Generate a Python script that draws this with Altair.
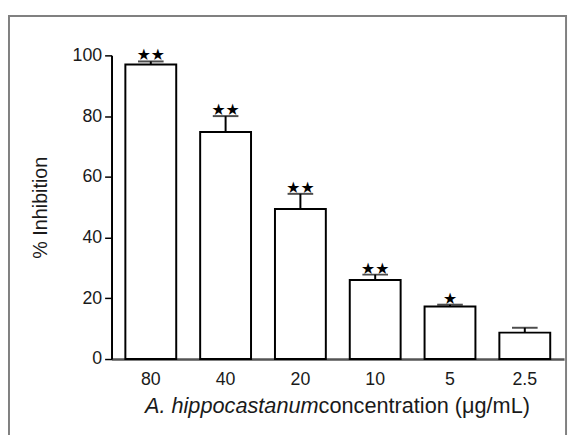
import altair as alt
import pandas as pd

concentrations = ["80", "40", "20", "10", "5", "2.5"]
inhibition = [97.0, 74.8, 49.4, 26.0, 17.3, 8.7]
errors = [1.0, 5.2, 5.0, 1.8, 0.6, 1.6]
stars = ["★★", "★★", "★★", "★★", "★", ""]
y_ticks = [0, 20, 40, 60, 80, 100]
y_title = "% Inhibition"
x_title_italic = "A. hippocastanum"
x_title_normal = "concentration (μg/mL)"

df = pd.DataFrame({
    "conc": concentrations,
    "mean": inhibition,
    "err": errors,
    "star": stars,
})
df["upper"] = df["mean"] + df["err"]

FONT = "Liberation Sans"
W, H = 459, 308

x_enc = alt.X(
    "conc:N",
    sort=concentrations,
    scale=alt.Scale(paddingInner=0.32, paddingOuter=0.185),
    axis=alt.Axis(
        title=None, labelAngle=0, ticks=False, labelPadding=12, grid=False,
        labelFontSize=18, labelFont=FONT, labelColor="#1a1a1a",
        domainColor="#555555", domainWidth=2.5,
    ),
)
y_scale = alt.Scale(domain=[0, 100], nice=False, zero=True)

base = alt.Chart(df)

bars = base.mark_bar(fill="white", stroke="black", strokeWidth=2).encode(
    x=x_enc,
    y=alt.Y(
        "mean:Q", scale=y_scale,
        axis=alt.Axis(
            values=y_ticks, title=y_title, grid=False,
            tickSize=7, tickWidth=1.5, tickColor="black",
            domainColor="black", domainWidth=2,
            labelFontSize=18, labelFont=FONT, labelColor="#1a1a1a", labelPadding=3,
            titleFontSize=20, titleFont=FONT, titleFontWeight="normal", titleColor="#1a1a1a",
            titleAngle=-90, titleX=-72, titleY=H / 2, titleAlign="center", titleBaseline="middle",
        ),
    ),
)

err_rule = base.mark_rule(color="black", strokeWidth=2).encode(
    x=alt.X("conc:N", sort=concentrations),
    y=alt.Y("mean:Q", scale=y_scale),
    y2="upper:Q",
)
caps = base.mark_tick(color="black", thickness=2, size=26).encode(
    x=alt.X("conc:N", sort=concentrations),
    y=alt.Y("upper:Q", scale=y_scale),
)
star_text = base.mark_text(
    font="DejaVu Sans", fontSize=16, color="black", baseline="alphabetic", dy=-1
).encode(
    x=alt.X("conc:N", sort=concentrations),
    y=alt.Y("upper:Q", scale=y_scale),
    text="star:N",
)

title_df = pd.DataFrame({"a": [x_title_italic], "b": [x_title_normal]})
t_italic = alt.Chart(title_df).mark_text(
    font=FONT, fontSize=22, fontStyle="italic", color="#1a1a1a",
    align="right", baseline="middle",
).encode(x=alt.value(210), y=alt.value(356), text="a:N")
t_normal = alt.Chart(title_df).mark_text(
    font=FONT, fontSize=22, color="#1a1a1a",
    align="left", baseline="middle",
).encode(x=alt.value(210), y=alt.value(356), text="b:N")

frame = alt.Chart(title_df).mark_rect(
    fill="transparent", stroke="#808080", strokeWidth=2, clip=False
).encode(
    x=alt.value(-104), x2=alt.value(461), y=alt.value(-40), y2=alt.value(420)
)

chart = alt.layer(frame, bars, err_rule, caps, star_text, t_italic, t_normal).properties(
    width=W, height=H,
    autosize=alt.AutoSizeParams(type="none"),
    padding={"left": 105, "top": 45, "right": 5, "bottom": 74},
).configure(background="white").configure_view(stroke="transparent", strokeWidth=0).configure_axis(grid=False)

chart.save("out.html", embed_options={"renderer": "svg", "actions": False})
